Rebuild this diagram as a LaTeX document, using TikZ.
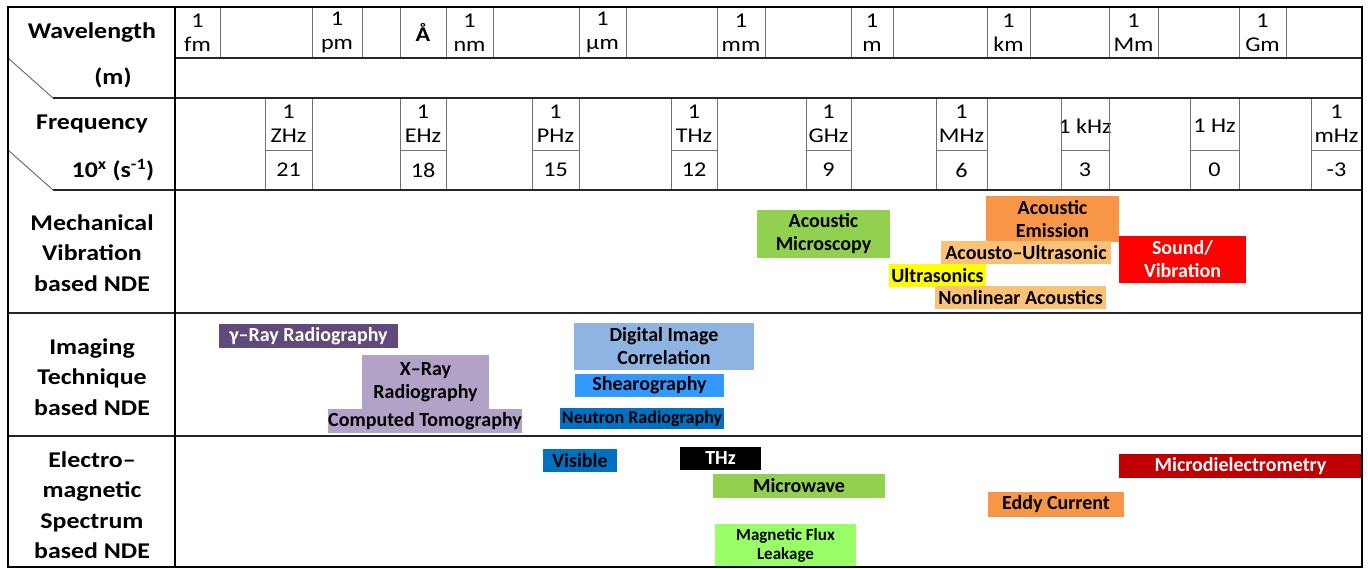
\documentclass[tikz,border=0pt]{standalone}
\usepackage{fontspec}
\setmainfont{Carlito}
\newfontfamily\tabfont{Carlito}[FakeStretch=1.15]
\usepackage{tikz}

\definecolor{ndegreen}{HTML}{92D050}
\definecolor{ndeorange}{HTML}{F79646}
\definecolor{ndepeach}{HTML}{FBC275}
\definecolor{ndeyellow}{HTML}{FFFF00}
\definecolor{ndered}{HTML}{FF0000}
\definecolor{ndeplum}{HTML}{604A7B}
\definecolor{ndelilac}{HTML}{B3A2C7}
\definecolor{ndesky}{HTML}{8EB4E3}
\definecolor{ndeazure}{HTML}{3399FF}
\definecolor{ndeblue}{HTML}{0070C0}
\definecolor{ndewine}{HTML}{C00000}
\definecolor{ndelime}{HTML}{99FF66}

\begin{document}
\begin{tikzpicture}[x=1pt, y=-1pt,
  every node/.style={inner sep=0pt, outer sep=0pt, align=center},
  hd/.style={font=\tabfont\fontsize{22.5}{30.5}\selectfont\bfseries},
  lbl/.style={font=\tabfont\fontsize{21}{24}\selectfont},
  tech/.style={font=\fontsize{20}{23}\selectfont\bfseries},
  frame/.style={draw=black, line width=2pt},
  sepline/.style={draw=black!85, line width=1.8pt},
  cellline/.style={draw=black!55, line width=1pt}]
\useasboundingbox (0,0) rectangle (1368,568);

% header column
\node[hd] (wavelen) at (92,33) {Wavelength};
\node[hd] (metre) at (113,78) {(m)};
\node[hd] (freq) at (92,124) {Frequency};
\node[hd] (expo) at (113,170) {10\textsuperscript{x} (s\textsuperscript{-1})};
\node[hd] (mechrow) at (92,253) {Mechanical\\Vibration\\based NDE};
\node[hd] (imgrow) at (92,377) {Imaging\\Technique\\based NDE};
\node[hd] (emrow) at (92,505) {Electro–\\magnetic\\Spectrum\\based NDE};

% wavelength labels
\node[lbl] (wfm) at (197.5,32.5) {1\\fm};
\node[lbl] (wpm) at (337,32.5) {1\\pm};
\node[lbl, font=\tabfont\fontsize{21}{24}\selectfont\bfseries] (wang) at (423,32) {Å};
\node[lbl] (wnm) at (469.5,32.5) {1\\nm};
\node[lbl] (wum) at (602.5,32.5) {1\\µm};
\node[lbl] (wmm) at (741,32.5) {1\\mm};
\node[lbl] (wm) at (872,32.5) {1\\m};
\node[lbl] (wkm) at (1008.5,32.5) {1\\km};
\node[lbl] (wMm) at (1133.5,32.5) {1\\Mm};
\node[lbl] (wGm) at (1262.5,32.5) {1\\Gm};

% frequency labels
\node[lbl] (fZ) at (288.5,124) {1\\ZHz};
\node[lbl] (fE) at (423,124) {1\\EHz};
\node[lbl] (fP) at (555.5,124) {1\\PHz};
\node[lbl] (fT) at (694,124) {1\\THz};
\node[lbl] (fG) at (828.5,124) {1\\GHz};
\node[lbl] (fM) at (961.5,124) {1\\MHz};
\node[lbl] (fk) at (1085,126) {1 kHz};
\node[lbl] (fH) at (1214.5,126) {1 Hz};
\node[lbl] (fm) at (1336.5,124) {1\\mHz};
\node[lbl] (xZ) at (288.5,170) {21};
\node[lbl] (xE) at (423,170) {18};
\node[lbl] (xP) at (555.5,170) {15};
\node[lbl] (xT) at (694,170) {12};
\node[lbl] (xG) at (828.5,170) {9};
\node[lbl] (xM) at (961.5,170) {6};
\node[lbl] (xk) at (1085,170) {3};
\node[lbl] (xH) at (1214.5,170) {0};
\node[lbl] (xm) at (1336.5,170) {-3};

% mechanical vibration based NDE
\node[tech, fill=ndegreen, minimum width=133pt, minimum height=48pt] (amicro) at (823.5,234) {Acoustic\\Microscopy};
\node[tech, fill=ndeorange, minimum width=133pt, minimum height=46pt] (aemis) at (1052.5,219) {Acoustic\\Emission};
\node[tech, fill=ndepeach, minimum width=170pt, minimum height=23pt] (aultra) at (1026,252.5) {Acousto–Ultrasonic};
\node[tech, fill=ndeyellow, minimum width=97pt, minimum height=23pt] (ultra) at (937.5,275.5) {Ultrasonics};
\node[tech, fill=ndepeach, minimum width=171pt, minimum height=23pt] (nonlin) at (1020.5,297.5) {Nonlinear Acoustics};
\node[tech, fill=ndered, text=white, minimum width=127pt, minimum height=47pt] (sound) at (1182.5,259.5) {Sound/\\Vibration};

% imaging technique based NDE
\node[tech, fill=ndeplum, text=white, minimum width=179pt, minimum height=24pt] (gray) at (308.5,336) {γ–Ray Radiography};
\node[tech, fill=ndelilac, minimum width=127pt, minimum height=54pt] (xray) at (425.5,382) {X–Ray\\Radiography};
\node[tech, fill=ndelilac, minimum width=192pt, minimum height=24pt] (ct) at (425,421) {Computed Tomography};
\node[tech, fill=ndesky, minimum width=180pt, minimum height=47pt] (dic) at (664,346.5) {Digital Image\\Correlation};
\node[tech, fill=ndeazure, minimum width=149pt, minimum height=23pt] (shear) at (649.5,385.5) {Shearography};
\node[tech, fill=ndeblue, minimum width=164pt, minimum height=21pt, font=\fontsize{18}{21}\selectfont\bfseries] (neutron) at (642,418.5) {Neutron Radiography};

% electromagnetic spectrum based NDE
\node[tech, fill=ndeblue, minimum width=74pt, minimum height=23pt] (visible) at (580,460.5) {Visible};
\node[tech, fill=black, text=white, minimum width=81pt, minimum height=23pt] (thz) at (720.5,458.5) {THz};
\node[tech, fill=ndegreen, minimum width=172pt, minimum height=24pt] (mwave) at (799,486) {Microwave};
\node[tech, fill=ndeorange, minimum width=136pt, minimum height=25pt] (eddy) at (1056,504.5) {Eddy Current};
\node[tech, fill=ndewine, text=white, minimum width=243pt, minimum height=24pt] (mdiel) at (1240.5,466) {Microdielectrometry};
\node[tech, fill=ndelime, minimum width=141pt, minimum height=42pt, font=\fontsize{17}{19}\selectfont\bfseries] (mfl) at (785.5,545) {Magnetic Flux\\Leakage};

% table lines
\draw[cellline] (220,7) -- (220,58) (312,7) -- (312,58) (362,7) -- (362,58) (400,7) -- (400,58)
  (446,7) -- (446,58) (493,7) -- (493,58) (579,7) -- (579,58) (626,7) -- (626,58)
  (717,7) -- (717,58) (765,7) -- (765,58) (851,7) -- (851,58) (893,7) -- (893,58)
  (987,7) -- (987,58) (1030,7) -- (1030,58) (1109,7) -- (1109,58) (1158,7) -- (1158,58)
  (1239,7) -- (1239,58) (1286,7) -- (1286,58);
\draw[cellline] (265,98) -- (265,190) (312,98) -- (312,190) (400,98) -- (400,190) (446,98) -- (446,190)
  (532,98) -- (532,190) (579,98) -- (579,190) (671,98) -- (671,190) (717,98) -- (717,190)
  (806,98) -- (806,190) (851,98) -- (851,190) (936,98) -- (936,190) (987,98) -- (987,190)
  (1061,98) -- (1061,190) (1109,98) -- (1109,190) (1190,98) -- (1190,190) (1239,98) -- (1239,190)
  (1311,98) -- (1311,190);
\draw[cellline] (265,150) -- (312,150) (400,150) -- (446,150) (532,150) -- (579,150)
  (671,150) -- (717,150) (806,150) -- (851,150) (936,150) -- (987,150)
  (1061,150) -- (1109,150) (1190,150) -- (1239,150) (1311,150) -- (1362,150);
\draw[cellline] (8,58) -- (53,98) (8,150) -- (53,190);
\draw[sepline] (175,58) -- (1362,58) (53,98) -- (1362,98) (53,190) -- (1362,190)
  (8,313) -- (1362,313) (8,436) -- (1362,436);
\draw[frame] (175,7) -- (175,567);
\draw[frame] (8,7) rectangle (1362,567);
\end{tikzpicture}
\end{document}
